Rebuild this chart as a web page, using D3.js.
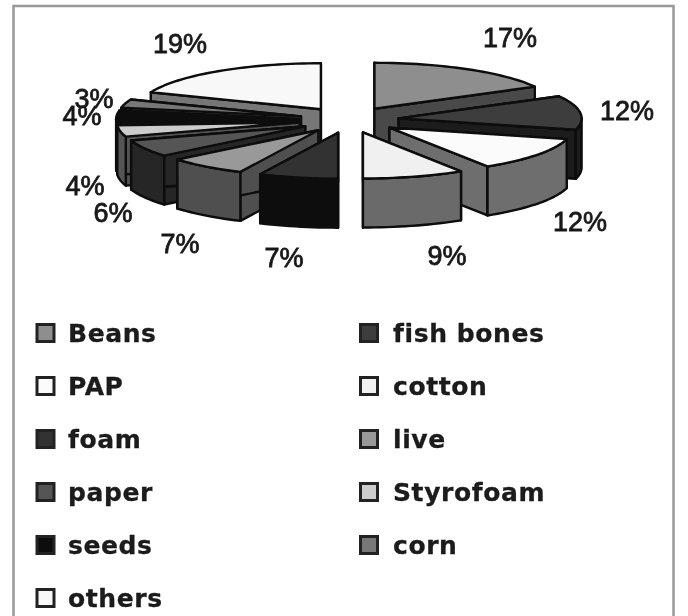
<!DOCTYPE html>
<html><head><meta charset="utf-8">
<script src="https://cdn.jsdelivr.net/npm/d3@7/dist/d3.min.js"></script>
<style>html,body{margin:0;background:#fff}svg{display:block}</style></head>
<body><svg id="c" width="688" height="616"></svg>
<script>
const categories = ["Beans","fish bones","PAP","cotton","foam","live","paper","Styrofoam","seeds","corn","others"];
const values = [17,12,12,9,7,7,6,4,4,3,19];
const labels = ["17%","12%","12%","9%","7%","7%","6%","4%","4%","3%","19%"];
const topColors = ["#8e8e8e","#3d3d3d","#fbfbfb","#f0f0f0","#333333","#999999","#555555","#cccccc","#0c0c0c","#777777","#f8f8f8"];
const sideColors = ["#4a4a4a","#1c1c1c","#6e6e6e","#6a6a6a","#0e0e0e","#505050","#262626","#555555","#0a0a0a","#3a3a3a","#777777"];
const legendLeft = ["Beans","PAP","foam","paper","seeds","others"];
const legendRight = ["fish bones","cotton","live","Styrofoam","corn"];

const svg = d3.select("#c");
const defs = svg.append("defs");
defs.append("filter").attr("id","soft").append("feGaussianBlur").attr("stdDeviation",0.7);
const g = svg.append("g").attr("filter","url(#soft)");
g.append("rect").attr("x",13.5).attr("y",6).attr("width",660).attr("height",640).attr("fill","#fff").attr("stroke","#999").attr("stroke-width",2.5);

const cx=349, cy=120, rx=183, ry=46, depth=49, ex=50, ey=13;
const pie = d3.pie().sort(null).startAngle(0).endAngle(2*Math.PI)(values);
const px = d3.scaleLinear().domain([-1,1]).range([-rx,rx]);
const py = d3.scaleLinear().domain([-1,1]).range([-ry,ry]);
const line = d3.line().curve(d3.curveLinear);

const slices = pie.map((p,i)=>{
  const mid=(p.startAngle+p.endAngle)/2;
  const ox=cx+ex*Math.sin(mid), oy=cy-ey*Math.cos(mid);
  const n=Math.max(6,Math.round((p.endAngle-p.startAngle)*30));
  const rim=d3.range(n+1).map(k=>{
    const a=p.startAngle+(p.endAngle-p.startAngle)*k/n;
    return [ox+px(Math.sin(a)), oy+py(-Math.cos(a))];
  });
  return {i,mid,ox,oy,rim,p};
});
const order = slices.slice().sort((a,b)=>a.oy-b.oy);
const shift=pts=>pts.map(d=>[d[0],d[1]+depth]);
const stroke="#0a0a0a";
order.forEach(s=>{
  const G=g.append("g").attr("stroke",stroke).attr("stroke-width",2.4).attr("stroke-linejoin","round");
  const apex=[s.ox,s.oy], first=s.rim[0], last=s.rim[s.rim.length-1];
  const side=sideColors[s.i];
  const quad=(a,b)=>G.append("path").attr("d",line([a,b,[b[0],b[1]+depth],[a[0],a[1]+depth]])+"Z").attr("fill",side);
  quad(apex,first);
  quad(apex,last);
  const front=s.rim.filter((d,k)=>{
    const a=s.p.startAngle+(s.p.endAngle-s.p.startAngle)*k/(s.rim.length-1);
    return Math.cos(a)<=0.02;
  });
  if(front.length>1) G.append("path").attr("d",line(front.concat(shift(front).reverse()))+"Z").attr("fill",side);
  G.append("path").attr("d",line([apex].concat(s.rim))+"Z").attr("fill",topColors[s.i]);
});

const labelPos=[[510,47],[627,120],[580,231],[447,265],[284,267],[180,253],[113,222],[85,195],[82,125],[94,108],[180,53]];
g.selectAll("text.pct").data(labels).join("text").attr("class","pct")
 .attr("x",(d,i)=>labelPos[i][0]).attr("y",(d,i)=>labelPos[i][1])
 .attr("text-anchor","middle").attr("font-family","Liberation Sans")
 .attr("font-size",27).attr("fill","#1a1a1a").attr("stroke","#1a1a1a").attr("stroke-width",0.8).text(d=>d);

const rows=[333,386,439,492,545,598];
function legend(names,xBox,xText){
  names.forEach((n,k)=>{
    const c=categories.indexOf(n);
    g.append("rect").attr("x",xBox).attr("y",rows[k]-8.5).attr("width",17).attr("height",17)
     .attr("fill",topColors[c]).attr("stroke","#222").attr("stroke-width",3);
    g.append("text").attr("x",xText).attr("y",rows[k]+9).attr("font-family","DejaVu Sans").attr("font-weight","bold")
     .attr("font-size",25).attr("letter-spacing",0.6).attr("fill","#1a1a1a").attr("stroke","#1a1a1a").attr("stroke-width",0.3).text(n);
  });
}
legend(legendLeft,37,68);
legend(legendRight,360.5,393);
</script></body></html>
